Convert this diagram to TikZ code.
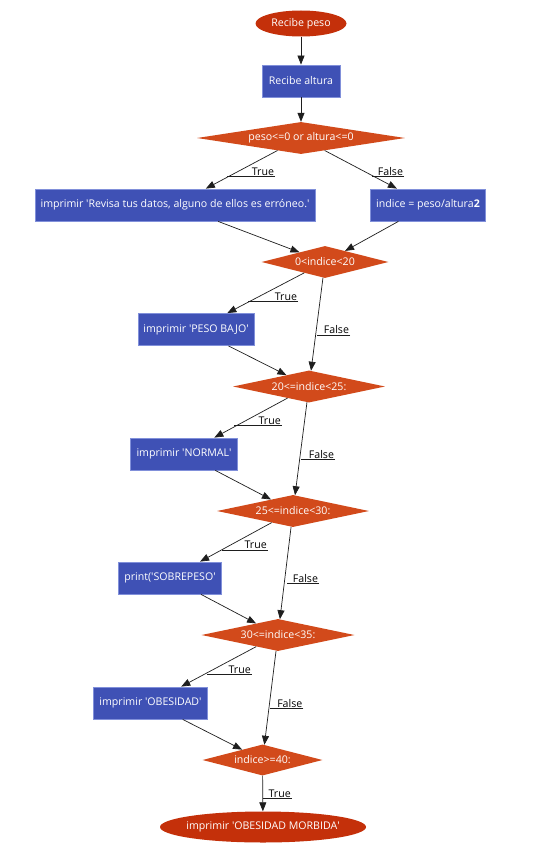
\documentclass[tikz,border=0pt]{standalone}
\usepackage{fontspec}
\setmainfont{Open Sans}
\usetikzlibrary{shapes.geometric,arrows.meta}
\definecolor{termc}{HTML}{C4300A}
\definecolor{decc}{HTML}{D24A1B}
\definecolor{boxc}{HTML}{3F51B5}
\definecolor{boxb}{HTML}{8190DA}
\definecolor{linec}{HTML}{1E1E1E}
\newcommand{\zb}[1]{\makebox[0pt]{#1}}
\newcommand{\qq}{\textquotesingle}
\begin{document}
\begin{tikzpicture}[x=1pt,y=-1pt,
  font=\fontsize{10.6}{12}\selectfont,
  term/.style={ellipse,fill=termc,text=white,inner sep=0pt},
  dec/.style={diamond,fill=decc,text=white,inner sep=0pt,minimum height=32},
  proc/.style={rectangle,fill=boxc,draw=boxb,line width=0.8pt,text=white,inner sep=0pt,minimum height=32},
  arr/.style={draw=linec,line width=0.7pt,-{Triangle[length=9pt,width=7pt]}},
  lbl/.style={anchor=south east,inner sep=0.8pt,text=black},
  ul/.style={draw=linec,line width=0.7pt}]
\useasboundingbox (0,0) rectangle (534,856);
\fill[white] (0,0) rectangle (534,856);
% nodes
\node[term,minimum width=91,minimum height=26] (n1) at (301,23.5) {\zb{Recibe peso}};
\node[proc,minimum width=78] (n2) at (301,81) {\zb{Recibe altura}};
\node[dec,minimum width=208] (d1) at (301,138) {\zb{peso<=0 or altura<=0}};
\node[proc,minimum width=280] (b1) at (175,205) {\zb{imprimir \qq Revisa tus datos, alguno de ellos es erróneo.\qq}};
\node[proc,minimum width=115] (b2) at (428,205) {\zb{indice = peso/altura\textbf{2}}};
\node[dec,minimum width=127] (d2) at (325,262) {\zb{0<indice<20}};
\node[proc,minimum width=116] (b3) at (196,329.5) {\zb{imprimir \qq PESO BAJO\qq}};
\node[dec,minimum width=152] (d3) at (309,386.5) {\zb{20<=indice<25:}};
\node[proc,minimum width=107] (b4) at (184,454) {\zb{imprimir \qq NORMAL\qq}};
\node[dec,minimum width=152] (d4) at (293,511) {\zb{25<=indice<30:}};
\node[proc,minimum width=103] (b5) at (170,578) {\zb{print(\qq SOBREPESO\qq}};
\node[dec,minimum width=153] (d5) at (278,635) {\zb{30<=indice<35:}};
\node[proc,minimum width=114] (b6) at (150.5,703) {\zb{imprimir \qq OBESIDAD\qq}};
\node[dec,minimum width=120,minimum height=31] (d6) at (262.5,760) {\zb{indice>=40:}};
\node[term,minimum width=206,minimum height=31] (n3) at (263,827) {\zb{imprimir \qq OBESIDAD MORBIDA\qq}};
% edges
\draw[arr] (n1) -- (n2);
\draw[arr] (n2) -- (d1);
\draw[arr] (d1) -- (b1);
\draw[arr] (d1) -- (b2);
\draw[arr] (b1) -- (d2);
\draw[arr] (b2) -- (d2);
\draw[arr] (d2) -- (b3);
\draw[arr] (d2) -- (d3);
\draw[arr] (b3) -- (d3);
\draw[arr] (d3) -- (b4);
\draw[arr] (d3) -- (d4);
\draw[arr] (b4) -- (d4);
\draw[arr] (d4) -- (b5);
\draw[arr] (d4) -- (d5);
\draw[arr] (b5) -- (d5);
\draw[arr] (d5) -- (b6);
\draw[arr] (d5) -- (d6);
\draw[arr] (b6) -- (d6);
\draw[arr] (d6) -- (n3);
% labels with underlines
\node[lbl] (t1) at (275,176.7) {True};
\draw[ul] (t1.south east) -- ++(-48.3,0);
\node[lbl] (f1) at (404,176.7) {False};
\draw[ul] (f1.south east) -- ++(-32.3,0);
\node[lbl] (t2) at (298,301.7) {True};
\draw[ul] (t2.south east) -- ++(-50,0);
\node[lbl] (f2) at (350,335) {False};
\draw[ul] (f2.south east) -- ++(-33.3,0);
\node[lbl] (t3) at (281.7,425.7) {True};
\draw[ul] (t3.south east) -- ++(-47.7,0);
\node[lbl] (f3) at (335,459.3) {False};
\draw[ul] (f3.south east) -- ++(-34,0);
\node[lbl] (t4) at (267.7,550) {True};
\draw[ul] (t4.south east) -- ++(-46,0);
\node[lbl] (f4) at (319,583.3) {False};
\draw[ul] (f4.south east) -- ++(-32.3,0);
\node[lbl] (t5) at (251.7,674.3) {True};
\draw[ul] (t5.south east) -- ++(-45,0);
\node[lbl] (f5) at (303.3,708.3) {False};
\draw[ul] (f5.south east) -- ++(-33.3,0);
\node[lbl] (t6) at (291.7,798.3) {True};
\draw[ul] (t6.south east) -- ++(-29.2,0);
\end{tikzpicture}
\end{document}
